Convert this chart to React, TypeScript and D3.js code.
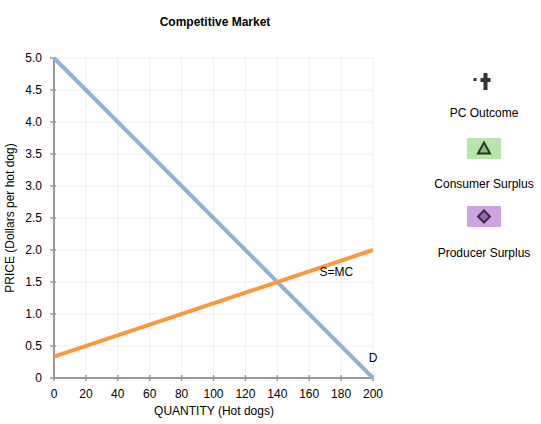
import React from 'react';
import * as d3 from 'd3';

// curve end points (quantity, price)
const demandPoints: [number, number][] = [[0, 5], [200, 0]];
const supplyPoints: [number, number][] = [[0, 1 / 3], [200, 2]];
const xTicks = [0, 20, 40, 60, 80, 100, 120, 140, 160, 180, 200];
const yTicks = [0, 0.5, 1, 1.5, 2, 2.5, 3, 3.5, 4, 4.5, 5];
const legendItems = ['PC Outcome', 'Consumer Surplus', 'Producer Surplus'];

const W = 541;
const H = 424;
const font = 'Helvetica, Arial, "Liberation Sans", sans-serif';

const App = () => {
  const x = d3.scaleLinear().domain([0, 200]).range([54, 373]);
  const y = d3.scaleLinear().domain([0, 5]).range([378, 58]);
  const line = d3.line<[number, number]>().x(d => x(d[0])).y(d => y(d[1]));

  const fmtY = (d: number) => (d === 0 ? '0' : d.toFixed(1));

  return (
    <svg width={W} height={H} style={{ position: 'absolute', left: 0, top: 0 }} fontFamily={font}>
      <rect width={W} height={H} fill="#fff" />
      <text x={215} y={26} textAnchor="middle" fontSize={12} fontWeight="bold" fill="#000">
        Competitive Market
      </text>

      {/* grid */}
      {xTicks.slice(1).map(t => (
        <line key={'gx' + t} x1={x(t)} x2={x(t)} y1={y(0)} y2={y(5)} stroke="#efefef" strokeWidth={1} />
      ))}
      {yTicks.slice(1).map(t => (
        <line key={'gy' + t} x1={x(0)} x2={x(200)} y1={y(t)} y2={y(t)} stroke="#efefef" strokeWidth={1} />
      ))}

      {/* axes */}
      <line x1={x(0)} x2={x(200)} y1={y(0)} y2={y(0)} stroke="#999" strokeWidth={2} />
      <line x1={x(0)} x2={x(0)} y1={y(0)} y2={y(5)} stroke="#999" strokeWidth={2} />
      {xTicks.map(t => (
        <g key={'xt' + t}>
          <line x1={x(t)} x2={x(t)} y1={y(0) - 3} y2={y(0) + 3} stroke="#999" strokeWidth={1.5} />
          <text x={x(t)} y={y(0) + 20} textAnchor="middle" fontSize={12} fill="#000">{t}</text>
        </g>
      ))}
      {yTicks.map(t => (
        <g key={'yt' + t}>
          <line x1={x(0) - 4} x2={x(0) + 2} y1={y(t)} y2={y(t)} stroke="#999" strokeWidth={1.5} />
          <text x={42} y={y(t) + 4} textAnchor="end" fontSize={12} fill="#000">{fmtY(t)}</text>
        </g>
      ))}
      <text x={214} y={415} textAnchor="middle" fontSize={12} fill="#000">QUANTITY (Hot dogs)</text>
      <text transform={`translate(14,${(y(0) + y(5)) / 2}) rotate(-90)`} textAnchor="middle" fontSize={12} fill="#000">
        PRICE (Dollars per hot dog)
      </text>

      {/* curves */}
      <path d={line(demandPoints) || ''} fill="none" stroke="#8db4d6" strokeWidth={4} />
      <path d={line(supplyPoints) || ''} fill="none" stroke="#f99a3d" strokeWidth={4} />
      <text x={x(177)} y={y(1.6)} textAnchor="middle" fontSize={12} fill="#000">S=MC</text>
      <text x={x(200)} y={y(0.25)} textAnchor="middle" fontSize={12} fill="#000">D</text>

      {/* legend: outcome marker */}
      <g transform="translate(485.5,80)">
        <rect x={-2} y={-7} width={4} height={17} fill="#333" />
        <rect x={-5} y={-2} width={10} height={4} fill="#333" />
        <rect x={-12} y={-2} width={3} height={3} fill="#333" />
      </g>
      <text x={484} y={117} textAnchor="middle" fontSize={12} fill="#000">{legendItems[0]}</text>

      <rect x={467} y={138} width={34} height={21} fill="#b7e6aa" />
      <path d="M484,142.5 L490,153.5 L478,153.5 Z" fill="#7fc46f" stroke="#333" strokeWidth={2} strokeLinejoin="miter" />
      <text x={484} y={188} textAnchor="middle" fontSize={12} fill="#000">{legendItems[1]}</text>

      <rect x={467} y={206} width={34} height={21} fill="#cfa3e0" />
      <path d="M484,210.5 L490,216.5 L484,222.5 L478,216.5 Z" fill="#a060c0" stroke="#333" strokeWidth={2} />
      <text x={484} y={257} textAnchor="middle" fontSize={12} fill="#000">{legendItems[2]}</text>
    </svg>
  );
};

export default App;
